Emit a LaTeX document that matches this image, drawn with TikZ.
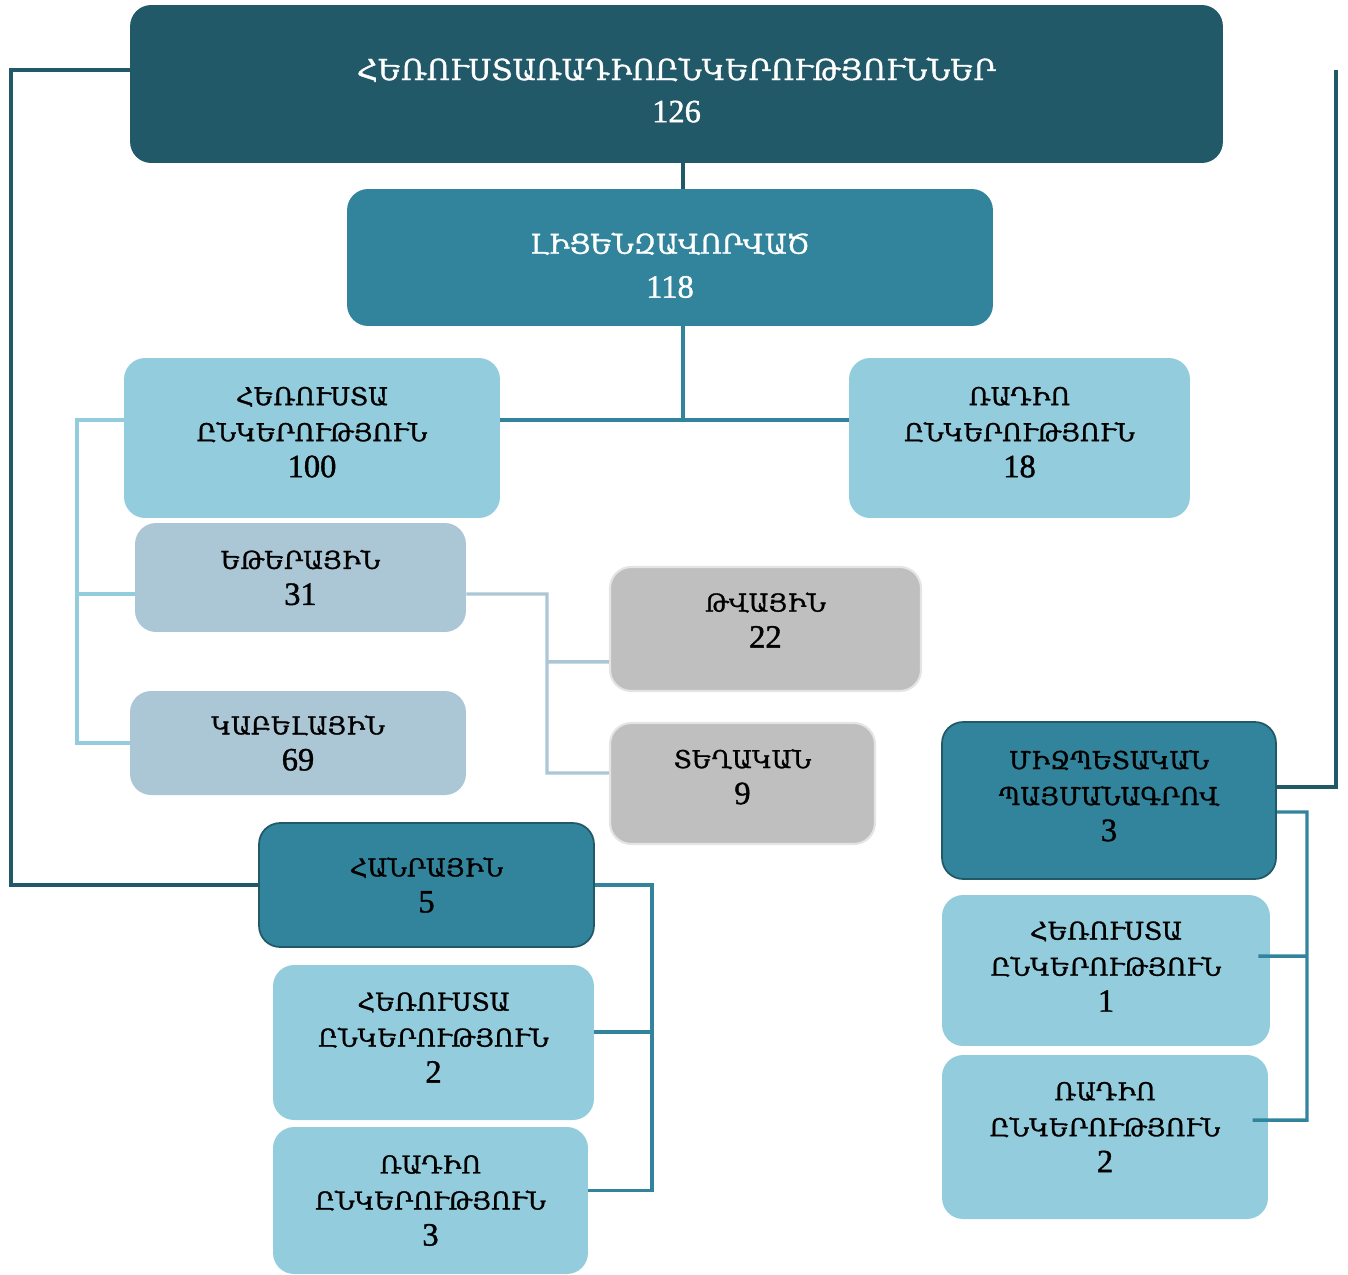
\documentclass[tikz,border=0pt]{standalone}
\usepackage{fontspec}
\setmainfont[FakeBold=1.2]{Liberation Serif}
\newfontfamily\armfont[FakeBold=1.2]{DejaVu Serif}
\definecolor{darkteal}{HTML}{215968}
\definecolor{midteal}{HTML}{31849B}
\definecolor{lightteal}{HTML}{93CDDD}
\definecolor{greyblue}{HTML}{ABC6D4}
\definecolor{softgrey}{HTML}{BFBFBF}
\definecolor{greyedge}{HTML}{E4E4E4}
\newcommand{\boxnum}[1]{{\rmfamily\fontsize{18.5}{20.5}\selectfont#1}}
\tikzset{
	box/.style={rounded corners=12pt, align=center, inner sep=0pt, font=\armfont\fontsize{14}{20.5}\selectfont},
	sz/.style 2 args={minimum width=#1cm, minimum height=#2cm},
	lift/.style={execute at end node={\rule[-#1]{0pt}{#1}}},
	drop/.style={execute at begin node={\rule{0pt}{#1}}},
	topbox/.style={box, fill=darkteal, text=white},
	licbox/.style={box, fill=midteal, text=white},
	lightbox/.style={box, fill=lightteal},
	castbox/.style={box, fill=greyblue},
	greybox/.style={box, fill=softgrey, draw=greyedge, line width=1.2pt},
	midbox/.style={box, fill=midteal, draw=darkteal, line width=1pt},
	link/.style={line width=1.9pt}
}
\begin{document}
\begin{tikzpicture}[x=0.02cm,y=-0.02cm]
		\useasboundingbox (0,0) rectangle (1348,1274);
		\node[topbox, sz={21.86}{3.16}, drop=43.7pt, font=\armfont\fontsize{16.5}{24}\selectfont] (total) at (676.5,84) {ՀԵՌՈՒՍՏԱՌԱԴԻՈԸՆԿԵՐՈՒԹՅՈՒՆՆԵՐ\\\boxnum{126}};
		\node[licbox, sz={12.92}{2.74}, drop=45.9pt, font=\armfont\fontsize{15.5}{25}\selectfont] (licensed) at (670,257.5) {ԼԻՑԵՆԶԱՎՈՐՎԱԾ\\\boxnum{118}};
		\node[lightbox, sz={7.52}{3.2}, lift=6.8pt] (tvco) at (312,438) {ՀԵՌՈՒՍՏԱ\\ԸՆԿԵՐՈՒԹՅՈՒՆ\\\boxnum{100}};
		\node[lightbox, sz={6.82}{3.2}, lift=6.8pt] (radioco) at (1019.5,438) {ՌԱԴԻՈ\\ԸՆԿԵՐՈՒԹՅՈՒՆ\\\boxnum{18}};
		\node[castbox, sz={6.62}{2.18}] (air) at (300.5,577.5) {ԵԹԵՐԱՅԻՆ\\\boxnum{31}};
		\node[castbox, sz={6.72}{2.08}] (cable) at (298,743) {ԿԱԲԵԼԱՅԻՆ\\\boxnum{69}};
		\node[greybox, sz={6.22}{2.48}, lift=10.2pt] (digital) at (765.5,629) {ԹՎԱՅԻՆ\\\boxnum{22}};
		\node[greybox, sz={5.30}{2.42}, lift=7.9pt] (local) at (742.5,783.5) {ՏԵՂԱԿԱՆ\\\boxnum{9}};
		\node[midbox, sz={6.70}{2.48}] (public) at (426.5,885) {ՀԱՆՐԱՅԻՆ\\\boxnum{5}};
		\node[lightbox, sz={6.42}{3.10}, lift=5.7pt] (pubtv) at (433.5,1042.5) {ՀԵՌՈՒՍՏԱ\\ԸՆԿԵՐՈՒԹՅՈՒՆ\\\boxnum{2}};
		\node[lightbox, sz={6.30}{2.94}] (pubradio) at (430.5,1200.5) {ՌԱԴԻՈ\\ԸՆԿԵՐՈՒԹՅՈՒՆ\\\boxnum{3}};
		\node[midbox, sz={6.68}{3.14}, lift=5.7pt] (intl) at (1109,800.5) {ՄԻՋՊԵՏԱԿԱՆ\\ՊԱՅՄԱՆԱԳՐՈՎ\\\boxnum{3}};
		\node[lightbox, sz={6.56}{3.02}, lift=4.5pt] (intltv) at (1106,970.5) {ՀԵՌՈՒՍՏԱ\\ԸՆԿԵՐՈՒԹՅՈՒՆ\\\boxnum{1}};
		\node[lightbox, sz={6.52}{3.28}, lift=11.3pt] (intlradio) at (1105,1137) {ՌԱԴԻՈ\\ԸՆԿԵՐՈՒԹՅՈՒՆ\\\boxnum{2}};
		\coordinate (hub) at (683,420);
		\coordinate (tvspine) at (77,420);
		\coordinate (airspine) at (547,594);
		\coordinate (leftout) at (11,885);
		\coordinate (rightout) at (1336,70);
		\coordinate (pubspine) at (652,885);
		\coordinate (intlspine) at (1307,812);
		\coordinate (airL) at ([yshift=-9.4pt]air.west);
		\coordinate (airR) at ([yshift=-9.4pt]air.east);
		\coordinate (digL) at ([yshift=-18.7pt]digital.west);
		\coordinate (locL) at ([yshift=6pt]local.west);
		\coordinate (pubtvR) at ([yshift=6pt]pubtv.east);
		\coordinate (pubradioR) at ([yshift=5.7pt]pubradio.east);
		\coordinate (intlR) at ([yshift=-6.5pt]intl.east);
		\coordinate (intlup) at ([yshift=7.7pt]intl.east);
		\coordinate (intltvR) at ([xshift=-6.8pt,yshift=8.2pt]intltv.east);
		\coordinate (intlradioR) at ([xshift=-9pt,yshift=9.6pt]intlradio.east);
		\draw[link, darkteal] (hub |- total.south) -- (hub |- licensed.north);
		\draw[link, midteal] (hub |- licensed.south) -- (hub)
			(hub -| tvco.east) -- (hub -| radioco.west);
		\draw[link, lightteal] (tvspine -| tvco.west) -- (tvspine) |- (cable.west)
			(tvspine |- airL) -- (airL);
		\draw[link, greyblue] (airR) -- (airspine) |- (locL)
			(airspine |- digL) -- (digL);
		\draw[link, darkteal] ([yshift=8pt]total.west) -| (leftout) -- (public.west);
		\draw[link, darkteal] (rightout) |- (intlup);
		\draw[link, midteal] (public.east) -- (pubspine) |- (pubradioR)
			(pubspine |- pubtvR) -- (pubtvR);
		\draw[link, midteal] (intlR) -- (intlspine) |- (intlradioR)
			(intlspine |- intltvR) -- (intltvR);
\end{tikzpicture}
\end{document}
